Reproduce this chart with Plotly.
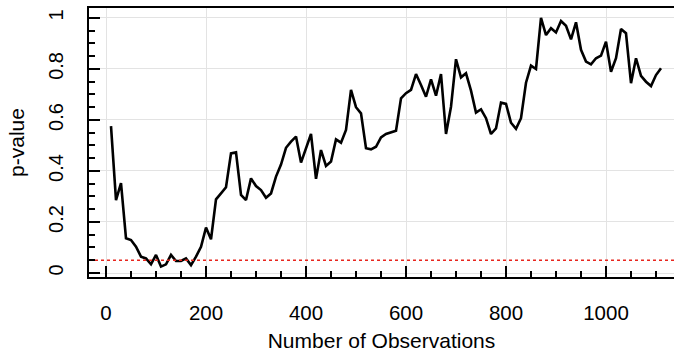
import plotly.graph_objects as go

# Sample sizes (number of observations) and the resulting p-values
n_obs = list(range(10, 1111, 10))
p_values = [
    0.576, 0.286, 0.352, 0.136, 0.129, 0.103, 0.064, 0.057, 0.034, 0.071,
    0.025, 0.034, 0.071, 0.047, 0.047, 0.057, 0.031, 0.064, 0.103, 0.178,
    0.132, 0.289, 0.312, 0.336, 0.469, 0.473, 0.306, 0.286, 0.371, 0.341,
    0.325, 0.295, 0.312, 0.378, 0.425, 0.491, 0.515, 0.535, 0.433, 0.489,
    0.545, 0.369, 0.482, 0.420, 0.437, 0.524, 0.511, 0.561, 0.718, 0.650,
    0.626, 0.489, 0.485, 0.495, 0.532, 0.545, 0.552, 0.558, 0.685, 0.705,
    0.718, 0.780, 0.737, 0.691, 0.759, 0.695, 0.780, 0.545, 0.652, 0.838,
    0.767, 0.783, 0.715, 0.629, 0.642, 0.607, 0.545, 0.567, 0.668, 0.663,
    0.589, 0.565, 0.607, 0.746, 0.813, 0.800, 1.000, 0.933, 0.960, 0.943,
    0.988, 0.969, 0.916, 0.983, 0.875, 0.829, 0.818, 0.842, 0.852, 0.907,
    0.789, 0.842, 0.957, 0.940, 0.744, 0.842, 0.773, 0.750, 0.733, 0.776,
    0.803,
]

alpha = 0.05
x_range = [-34, 1136]
y_range = [-0.0157, 1.039]
x_ticks = [0, 200, 400, 600, 800, 1000]
y_ticks = [0, 0.2, 0.4, 0.6, 0.8, 1]
y_tick_text = ["0", "0.2", "0.4", "0.6", "0.8", "1"]

FONT = "Liberation Sans"

fig = go.Figure()
fig.add_trace(go.Scatter(
    x=n_obs, y=p_values, mode="lines",
    line=dict(color="black", width=2.6),
    showlegend=False,
))

# significance threshold across the full x range
fig.add_trace(go.Scatter(
    x=x_range, y=[alpha, alpha], mode="lines",
    line=dict(color="#e8261e", width=1.6, dash="3px,3px"),
    showlegend=False,
))

fig.update_layout(
    width=675, height=352,
    margin=dict(l=89, r=1, t=8, b=75),
    plot_bgcolor="white",
    font=dict(family=FONT, size=20, color="black"),
    xaxis=dict(
        automargin=False,
        range=x_range, tickvals=x_ticks,
        ticks="inside", ticklen=11, tickwidth=1.5, tickcolor="black",
        minor=dict(ticks="inside", ticklen=6, tickwidth=1.5, tickcolor="black",
                   dtick=50, tick0=0, showgrid=False),
        showline=True, linecolor="black", linewidth=2, mirror=True,
        showgrid=True, gridcolor="#e3e3e3", gridwidth=1.2,
        zeroline=False,
        tickfont=dict(size=20.5), ticklabelstandoff=16,
        title=dict(text="Number of Observations", font=dict(size=21)),
    ),
    yaxis=dict(
        automargin=False,
        range=y_range, tickvals=y_ticks, ticktext=y_tick_text,
        tickangle=-90,
        ticks="inside", ticklen=11, tickwidth=1.5, tickcolor="black",
        minor=dict(ticks="inside", ticklen=6, tickwidth=1.5, tickcolor="black",
                   dtick=0.05, tick0=0, showgrid=False),
        showline=True, linecolor="black", linewidth=2, mirror=False,
        showgrid=True, gridcolor="#e3e3e3", gridwidth=1.2,
        zeroline=False,
        tickfont=dict(size=20), ticklabelstandoff=16,
        title=dict(text="p-value", font=dict(size=21)),
    ),
)

fig.write_html("out.html")
